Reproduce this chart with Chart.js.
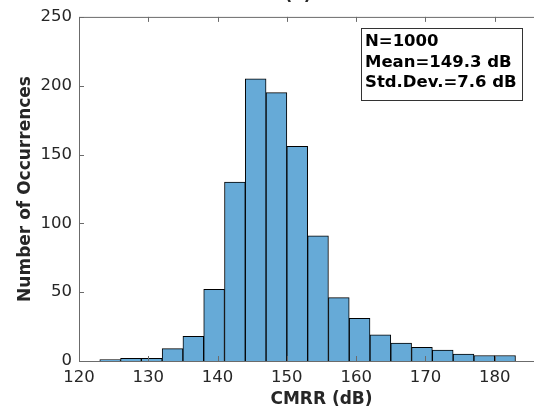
<!DOCTYPE html>
<html>
<head>
<meta charset="utf-8">
<script src="https://cdn.jsdelivr.net/npm/chart.js@4/dist/chart.umd.min.js"></script>
<style>
  html, body { margin: 0; padding: 0; background: #fff; overflow: hidden; }
  #wrap { width: 534px; height: 412px; overflow: hidden; }
</style>
</head>
<body>
<div id="wrap"><canvas id="hist" width="600" height="412"></canvas></div>
<script>
// histogram bins (centres, dB) and counts
const binCenters = [124.5, 127.5, 130.5, 133.5, 136.5, 139.5, 142.5, 145.5, 148.5, 151.5,
                    154.5, 157.5, 160.5, 163.5, 166.5, 169.5, 172.5, 175.5, 178.5, 181.5];
const counts = [1, 2, 2, 9, 18, 52, 130, 205, 195, 156,
                91, 46, 31, 19, 13, 10, 8, 5, 4, 4];
const statsLines = ['N=1000', 'Mean=149.3 dB', 'Std.Dev.=7.6 dB'];
const titleText = '(a)';

const axisColor = '#6b6b6b';
const textColor = '#262626';
const fontFam = '"DejaVu Sans", sans-serif';

// matlab style: box on top, ticks pointing inwards, stats box
const matlabAxes = {
  id: 'matlabAxes',
  afterDatasetsDraw(chart) {
    const { ctx, chartArea: a, scales } = chart;
    const xs = scales.x, ys = scales.y;
    ctx.save();
    ctx.strokeStyle = axisColor;
    ctx.lineWidth = 1;
    ctx.beginPath();
    ctx.moveTo(a.left + 0.5, a.bottom + 0.5);
    ctx.lineTo(a.left + 0.5, a.top + 0.5);
    ctx.lineTo(a.right, a.top + 0.5);
    ctx.moveTo(a.left, a.bottom + 0.5);
    ctx.lineTo(a.right, a.bottom + 0.5);
    xs.ticks.forEach(t => {
      const px = Math.round(xs.getPixelForValue(t.value)) + 0.5;
      ctx.moveTo(px, a.bottom);
      ctx.lineTo(px, a.bottom - 5);
      ctx.moveTo(px, a.top);
      ctx.lineTo(px, a.top + 5);
    });
    ys.ticks.forEach(t => {
      const py = Math.round(ys.getPixelForValue(t.value)) + 0.5;
      ctx.moveTo(a.left, py);
      ctx.lineTo(a.left + 5, py);
    });
    ctx.stroke();

    // stats box
    const bx = 361.5, by = 28.5, bw = 161, bh = 72;
    ctx.fillStyle = '#fff';
    ctx.fillRect(bx, by, bw, bh);
    ctx.strokeStyle = '#333';
    ctx.strokeRect(bx, by, bw, bh);
    ctx.fillStyle = '#000';
    ctx.font = 'bold 16.5px ' + fontFam;
    ctx.textAlign = 'left';
    ctx.textBaseline = 'alphabetic';
    statsLines.forEach((s, i) => ctx.fillText(s, 365, 46 + i * 20.5));

    // title, mostly above the window like the original crop
    ctx.font = 'bold 17px ' + fontFam;
    ctx.textAlign = 'center';
    ctx.fillStyle = textColor;
    ctx.fillText(titleText, 298, 0);
    ctx.restore();
  }
};

new Chart(document.getElementById('hist'), {
  type: 'bar',
  data: {
    datasets: [{
      data: binCenters.map((c, i) => ({ x: c, y: counts[i] })),
      backgroundColor: '#66aad7',
      borderColor: '#000',
      borderWidth: 1,
      barPercentage: 1,
      categoryPercentage: 1
    }]
  },
  options: {
    responsive: false,
    animation: false,
    layout: { padding: { top: 14, left: 0, right: 36, bottom: 0 } },
    plugins: { legend: { display: false }, tooltip: { enabled: false } },
    scales: {
      x: {
        type: 'linear',
        min: 120,
        max: 190,
        offset: false,
        afterFit: s => { s.height = 51; },
        ticks: { stepSize: 10, padding: 7, color: textColor, font: { family: fontFam, size: 16.5 } },
        grid: { offset: false, drawOnChartArea: false, drawTicks: false, display: false },
        border: { display: false },
        title: { display: true, text: 'CMRR (dB)', color: textColor, padding: { top: 0, bottom: 2 },
                 font: { family: fontFam, size: 17, weight: 'bold' } }
      },
      y: {
        min: 0,
        max: 250,
        afterFit: s => { s.width = 79; },
        ticks: { stepSize: 50, padding: 7, color: textColor, font: { family: fontFam, size: 16.5 } },
        grid: { drawOnChartArea: false, drawTicks: false, display: false },
        border: { display: false },
        title: { display: true, text: 'Number of Occurrences', color: textColor, padding: { top: 15, bottom: 0 },
                 font: { family: fontFam, size: 17, weight: 'bold' } }
      }
    }
  },
  plugins: [matlabAxes]
});
</script>
</body>
</html>
